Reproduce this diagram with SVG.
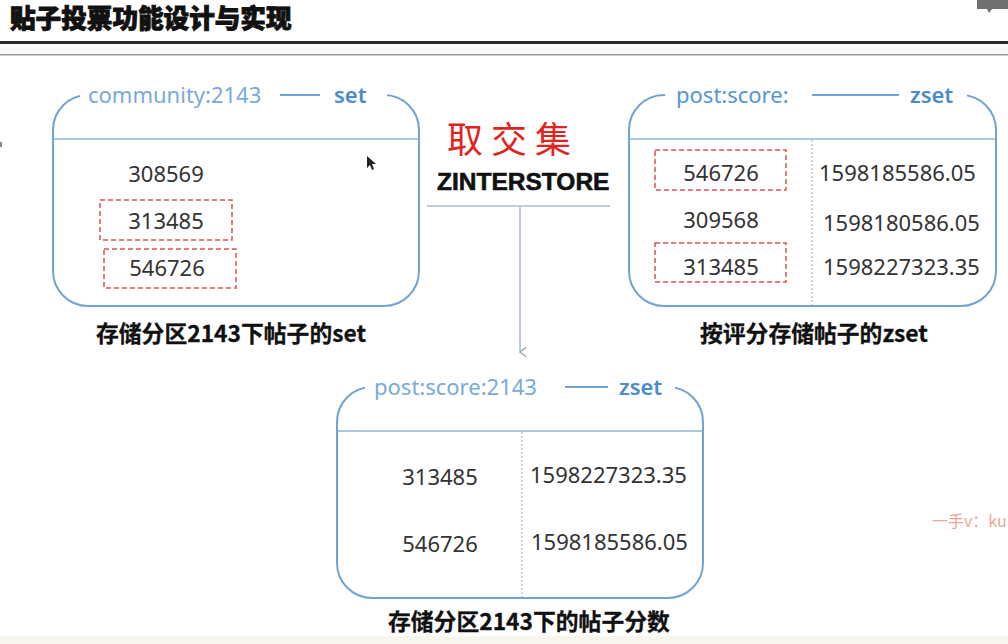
<svg xmlns="http://www.w3.org/2000/svg" width="1008" height="644" viewBox="0 0 1008 644">
  <style>
    .title { font-family: "Noto Sans CJK SC", "Noto Sans", sans-serif; font-weight: 900; font-size: 25.6px; fill: #111; stroke: #111; stroke-width: 0.9; }
    .box { fill: none; stroke: #6fa3d5; stroke-width: 2; }
    .div { stroke: #8fb6dc; stroke-width: 1.5; }
    .vdash { stroke: #9cbfdf; stroke-width: 1.2; stroke-dasharray: 2 2; }
    .mask { fill: #ffffff; }
    .key { font-family: "Noto Sans", sans-serif; font-size: 22px; fill: #7aaad8; }
    .keyd { font-family: "Noto Sans", sans-serif; font-size: 22px; fill: #5696d2; }
    .type { font-family: "Noto Sans", sans-serif; font-size: 22px; font-weight: 600; fill: #4a8cca; }
    .num { font-family: "Noto Sans", sans-serif; font-size: 22px; fill: #333; }
    .pick { fill: none; stroke: #d9534f; stroke-width: 1.5; stroke-dasharray: 5 3; }
    .cap { font-family: "Noto Sans CJK SC", "Noto Sans", sans-serif; font-weight: bold; font-size: 22.8px; fill: #111; stroke: #111; stroke-width: 0.3; }
    .conn { stroke: #aabcd2; stroke-width: 1.5; fill: none; }
  </style>
  <defs>
    <marker id="chev" viewBox="0 0 12 12" refX="6" refY="11" markerWidth="12" markerHeight="12" markerUnits="userSpaceOnUse" orient="auto-start-reverse">
      <path d="M1.5 5 L6 11 L10.5 5" fill="none" stroke="#8fa3bc" stroke-width="1.5"/>
    </marker>
  </defs>

  <rect x="0" y="0" width="1008" height="644" fill="#ffffff"/>
  <rect x="0" y="636" width="1008" height="8" fill="#f7f5ec"/>

  <!-- page header -->
  <g id="header">
    <text class="title" x="10" y="28">贴子投票功能设计与实现</text>
    <rect x="0" y="41" width="1008" height="3" fill="#2a2a2a"/>
    <rect x="0" y="44" width="1008" height="10" fill="#f8f8f8"/>
    <rect x="0" y="54" width="1008" height="1.5" fill="#9a9a9a"/>
    <path d="M977 0 H1008 V9 H992 L989 13 L987 9 H977 Z" fill="#707070"/>
    <rect x="0" y="142" width="2" height="5" fill="#888"/>
  </g>

  <!-- community:2143 set -->
  <g id="node-community-set">
    <rect class="box" x="53" y="95" width="366" height="211" rx="35" ry="35"/>
    <rect class="mask" x="80" y="88" width="307" height="14"/>
    <line class="div" x1="54" y1="139" x2="418" y2="139"/>
    <text class="key" x="88" y="103">community:2143</text>
    <line x1="280" y1="95" x2="320" y2="95" stroke="#6fa3d5" stroke-width="2"/>
    <text class="type" x="334" y="103">set</text>
    <text class="num" x="166" y="182" text-anchor="middle">308569</text>
    <rect class="pick" x="100" y="200" width="132" height="40"/>
    <text class="num" x="166" y="229" text-anchor="middle">313485</text>
    <rect class="pick" x="104" y="249" width="132" height="39"/>
    <text class="num" x="167" y="276" text-anchor="middle">546726</text>
    <path d="M367 156 L367 168 L370 165 L372 170 L374 169 L372 164 L376 164 Z" fill="#222"/>
  </g>
  <text class="cap" x="96" y="342">存储分区2143下帖子的set</text>

  <!-- post:score: zset -->
  <g id="node-post-score">
    <rect class="box" x="629" y="95" width="367" height="211" rx="35" ry="35"/>
    <rect class="mask" x="665" y="88" width="302" height="14"/>
    <line class="div" x1="630" y1="139" x2="995" y2="139"/>
    <line class="vdash" x1="812" y1="140" x2="812" y2="305"/>
    <text class="keyd" x="676" y="103">post:score:</text>
    <line x1="812" y1="95" x2="899" y2="95" stroke="#6fa3d5" stroke-width="2"/>
    <text class="type" x="910" y="103">zset</text>
    <rect class="pick" x="655" y="150" width="131" height="40"/>
    <text class="num" x="721" y="181" text-anchor="middle">546726</text>
    <text class="num" x="721" y="228" text-anchor="middle">309568</text>
    <rect class="pick" x="655" y="243" width="131" height="39"/>
    <text class="num" x="721" y="275" text-anchor="middle">313485</text>
    <text class="num" x="819" y="181">1598185586.05</text>
    <text class="num" x="823" y="231">1598180586.05</text>
    <text class="num" x="823" y="275">1598227323.35</text>
  </g>
  <text class="cap" x="700" y="342">按评分存储帖子的zset</text>

  <!-- intersection operation -->
  <g id="node-zinterstore">
    <text x="447" y="153" font-family="Noto Sans CJK SC, sans-serif" font-size="36" letter-spacing="8" fill="#e0231f">取交集</text>
    <text x="437" y="190" font-family="Liberation Sans, Arial, sans-serif" font-weight="bold" font-size="24.5" fill="#111" stroke="#111" stroke-width="0.6">ZINTERSTORE</text>
  </g>

  <!-- post:score:2143 zset -->
  <g id="node-result">
    <rect class="box" x="337" y="387" width="366" height="211" rx="35" ry="35"/>
    <rect class="mask" x="365" y="380" width="310" height="14"/>
    <line class="div" x1="338" y1="431" x2="702" y2="431"/>
    <line class="vdash" x1="522" y1="432" x2="522" y2="597"/>
    <text class="key" x="374" y="395">post:score:2143</text>
    <line x1="565" y1="387" x2="608" y2="387" stroke="#6fa3d5" stroke-width="2"/>
    <text class="type" x="619" y="395">zset</text>
    <text class="num" x="440" y="485" text-anchor="middle">313485</text>
    <text class="num" x="530" y="483">1598227323.35</text>
    <text class="num" x="440" y="552" text-anchor="middle">546726</text>
    <text class="num" x="531" y="550">1598185586.05</text>
  </g>
  <text class="cap" x="388" y="630">存储分区2143下的帖子分数</text>

  <!-- connectors -->
  <g id="connectors">
    <line class="conn" x1="427" y1="206" x2="610" y2="206" stroke="#c0cedc"/>
    <line class="conn" x1="520" y1="207" x2="520" y2="352" marker-end="url(#chev)"/>
  </g>

  <text x="932" y="527" font-family="Noto Sans CJK SC, Noto Sans, sans-serif" font-size="16" fill="#f0a596">一手v：ku</text>
</svg>
